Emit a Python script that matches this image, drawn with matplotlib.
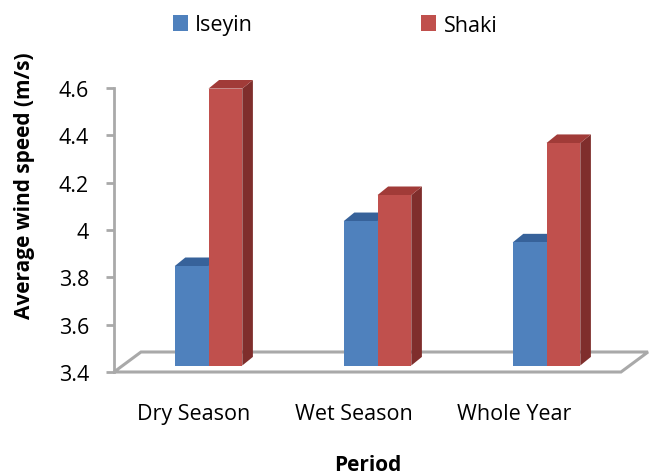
import matplotlib
matplotlib.use("Agg")
import matplotlib.pyplot as plt
from matplotlib.patches import Polygon, Patch
from matplotlib.transforms import ScaledTranslation

# Average wind speed per period (m/s)
categories = ["Dry Season", "Wet Season", "Whole Year"]
iseyin = [3.82, 4.01, 3.92]
shaki = [4.57, 4.12, 4.34]
series_names = ["Iseyin", "Shaki"]
yticks = [3.4, 3.6, 3.8, 4.0, 4.2, 4.4, 4.6]
ytick_labels = ["3.4", "3.6", "3.8", "4", "4.2", "4.4", "4.6"]

FONT = "Open Sans"
plt.rcParams["font.family"] = [FONT, "DejaVu Sans"]

W, H = 649, 477
fig = plt.figure(figsize=(W / 100, H / 100), dpi=100)
ax = fig.add_axes([114 / W, 104 / H, 507 / W, 284 / H])
ymin, ymax = 3.4, 4.6
ax.set_xlim(-0.5, len(categories) - 0.5)
ax.set_ylim(ymin, ymax)

# pixels per data unit, used to express the 3-D depth in data units
p0 = ax.transData.transform((0, ymin))
p1 = ax.transData.transform((1, ymin + 1))
sx, sy = p1[0] - p0[0], p1[1] - p0[1]

grey = "#a9a9a9"
# floor of the 3-D plot (parallelogram outline)
fdx, fdy = 27 / sx, 20 / sy
x0, x1 = ax.get_xlim()
floor = Polygon([(x0, ymin), (x1, ymin), (x1 + fdx, ymin + fdy), (x0 + fdx, ymin + fdy)],
                closed=True, fill=False, edgecolor=grey, lw=2.2, clip_on=False, zorder=1)
ax.add_patch(floor)

# bars sit a little behind the front edge of the floor
front = ax.transData + ScaledTranslation(10 / 100, 6.5 / 100, fig.dpi_scale_trans)
ddx, ddy = 10.6 / sx, 8.6 / sy
width = 0.2

styles = [
    dict(face="#4f81bd", top="#37629a", side="#2f5686"),
    dict(face="#c0504d", top="#a13b38", side="#7f2e2c"),
]

z = 2
for i in range(len(categories)):
    for k, vals in enumerate([iseyin, shaki]):
        st = styles[k]
        xc = i - 0.1 + 0.2 * k
        ax.bar(xc, vals[i] - ymin, width=width, bottom=ymin, color=st["face"],
               transform=front, clip_on=False, zorder=z, linewidth=0)
        l, r, top = xc - width / 2, xc + width / 2, vals[i]
        side = Polygon([(r, ymin), (r, top), (r + ddx, top + ddy), (r + ddx, ymin + ddy)],
                       closed=True, facecolor=st["side"], edgecolor="none",
                       transform=front, clip_on=False, zorder=z - 0.5)
        lid = Polygon([(l, top), (r, top), (r + ddx, top + ddy), (l + ddx, top + ddy)],
                      closed=True, facecolor=st["top"], edgecolor="none",
                      transform=front, clip_on=False, zorder=z - 0.5)
        ax.add_patch(side)
        ax.add_patch(lid)
        z += 1

# axes styling
for s in ["top", "right", "bottom"]:
    ax.spines[s].set_visible(False)
ax.spines["left"].set_color(grey)
ax.spines["left"].set_linewidth(2)

ax.set_yticks(yticks)
ax.set_yticklabels(ytick_labels, fontsize=15.5)
ax.tick_params(axis="y", direction="out", length=6, width=2, color=grey, pad=12)

label_x = [-0.03 + 0.949 * i for i in range(len(categories))]
ax.set_xticks(label_x)
ax.set_xticklabels(categories, fontsize=15.5)
ax.tick_params(axis="x", length=0, pad=22)

ax.set_xlabel("Period", fontsize=15, fontweight="bold")
ax.xaxis.set_label_coords(0.5, -0.325)
ax.xaxis.label.set_va("center")
ax.set_ylabel("Average wind speed (m/s)", fontsize=15, fontweight="bold")
ax.yaxis.set_label_coords(-0.176, 0.658)
ax.yaxis.label.set_va("center")

handles = [Patch(facecolor=styles[0]["face"]), Patch(facecolor=styles[1]["face"])]
fig.legend(handles, series_names, loc="center", bbox_to_anchor=(335 / W, 1 - 26 / H),
           ncol=2, frameon=False, fontsize=15.5, handlelength=0.7, handleheight=0.7,
           handletextpad=0.35, columnspacing=7.8)

fig.savefig("out.png", dpi=100)
